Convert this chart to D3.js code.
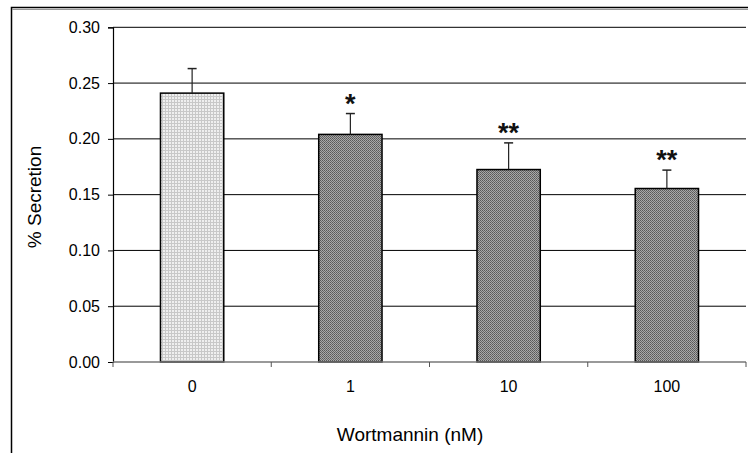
<!DOCTYPE html>
<html><head><meta charset="utf-8">
<script src="https://cdn.jsdelivr.net/npm/d3@7"></script>
<style>
html,body{margin:0;padding:0;background:#fff;}
svg{display:block;font-family:"Liberation Sans",Arial,sans-serif;}
</style></head>
<body><svg id="c" width="748" height="453"></svg>
<script>
const categories = ["0", "1", "10", "100"];
const values = [0.241, 0.204, 0.1725, 0.1555];
const errors = [0.022, 0.0187, 0.0239, 0.0165];
const marks = ["", "*", "**", "**"];
const yTicks = [0, 0.05, 0.10, 0.15, 0.20, 0.25, 0.30];
const xTitle = "Wortmannin (nM)";
const yTitle = "% Secretion";

(function(){
const svg = d3.select("#c");
const defs = svg.append("defs");
const pl = defs.append("pattern").attr("id","pLight").attr("width",3).attr("height",3).attr("patternUnits","userSpaceOnUse");
pl.append("rect").attr("width",3).attr("height",3).attr("fill","#efefef");
pl.append("rect").attr("width",3).attr("height",1).attr("fill","#c8c8c8");
pl.append("rect").attr("width",1).attr("height",3).attr("fill","#c8c8c8");
const pd = defs.append("pattern").attr("id","pDark").attr("width",2).attr("height",2).attr("patternUnits","userSpaceOnUse");
pd.append("rect").attr("width",2).attr("height",2).attr("fill","#a8a8a8");
pd.append("rect").attr("width",1).attr("height",1).attr("fill","#585858");
pd.append("rect").attr("x",1).attr("y",1).attr("width",1).attr("height",1).attr("fill","#686868");

// outer frame
svg.append("rect").attr("x",11.5).attr("y",7.5).attr("width",760).attr("height",460)
  .attr("fill","none").attr("stroke","#000").attr("stroke-width",1.5);
svg.append("line").attr("x1",12).attr("x2",748).attr("y1",9.5).attr("y2",9.5).attr("stroke","#999").attr("stroke-width",1);

const pLeft = 113, pRight = 746, pTop = 27.3, pBottom = 362;
const x = d3.scaleBand().domain(categories).range([pLeft,pRight]).paddingInner(0.6).paddingOuter(0.3);
const y = d3.scaleLinear().domain([0,0.3]).range([pBottom,pTop]);

// gridlines
svg.append("g").selectAll("line").data(yTicks.filter(d=>d>0)).join("line")
  .attr("x1",pLeft).attr("x2",pRight).attr("y1",d=>y(d)).attr("y2",d=>y(d))
  .attr("stroke","#000").attr("stroke-width",1);

// y axis
const ya = svg.append("g").attr("transform",`translate(${pLeft},0)`)
  .call(d3.axisLeft(y).tickValues(yTicks).tickFormat(d3.format(".2f")).tickSize(5).tickPadding(8));
ya.select(".domain").attr("stroke","#000").attr("stroke-width",1.2);
ya.selectAll(".tick line").attr("stroke","#000");
ya.selectAll("text").attr("font-size",16).attr("fill","#000").attr("font-family","Liberation Sans, Arial, sans-serif");

// bars
svg.append("g").selectAll("rect").data(values).join("rect")
  .attr("x",(d,i)=>x(categories[i])).attr("width",x.bandwidth())
  .attr("y",d=>y(d)).attr("height",d=>y(0)-y(d))
  .attr("fill",(d,i)=>i===0?"url(#pLight)":"url(#pDark)")
  .attr("stroke","#000").attr("stroke-width",1.5);

// x axis
const step = x.step();
svg.append("line").attr("x1",pLeft).attr("x2",pRight).attr("y1",y(0)).attr("y2",y(0)).attr("stroke","#777").attr("stroke-width",1.5);
svg.append("g").selectAll("line").data(d3.range(categories.length+1)).join("line")
  .attr("x1",i=>pLeft+i*step).attr("x2",i=>pLeft+i*step).attr("y1",y(0)).attr("y2",y(0)+5)
  .attr("stroke","#555").attr("stroke-width",1);
svg.append("g").selectAll("text").data(categories).join("text")
  .attr("x",d=>x(d)+x.bandwidth()/2).attr("y",392).attr("text-anchor","middle")
  .attr("font-size",16).attr("fill","#000").text(d=>d);

// error bars (upper only)
const eb = svg.append("g");
values.forEach((v,i)=>{
  const cx = x(categories[i])+x.bandwidth()/2;
  eb.append("line").attr("x1",cx).attr("x2",cx).attr("y1",y(v)).attr("y2",y(v+errors[i])).attr("stroke","#222").attr("stroke-width",1.2);
  eb.append("line").attr("x1",cx-4.5).attr("x2",cx+4.5).attr("y1",y(v+errors[i])).attr("y2",y(v+errors[i])).attr("stroke","#222").attr("stroke-width",1.5);
});

// significance marks
svg.append("g").selectAll("text").data(marks).join("text")
  .attr("x",(d,i)=>x(categories[i])+x.bandwidth()/2)
  .attr("y",(d,i)=>y(values[i]+errors[i])-1)
  .attr("text-anchor","middle").attr("font-size",27).attr("font-weight","bold").attr("fill","#111")
  .text(d=>d);

// titles
svg.append("text").attr("x",410).attr("y",441).attr("text-anchor","middle").attr("font-size",19).attr("fill","#000").text(xTitle);
svg.append("text").attr("transform","translate(41,197) rotate(-90)").attr("text-anchor","middle").attr("font-size",19).attr("fill","#000").text(yTitle);
})();
</script></body></html>
